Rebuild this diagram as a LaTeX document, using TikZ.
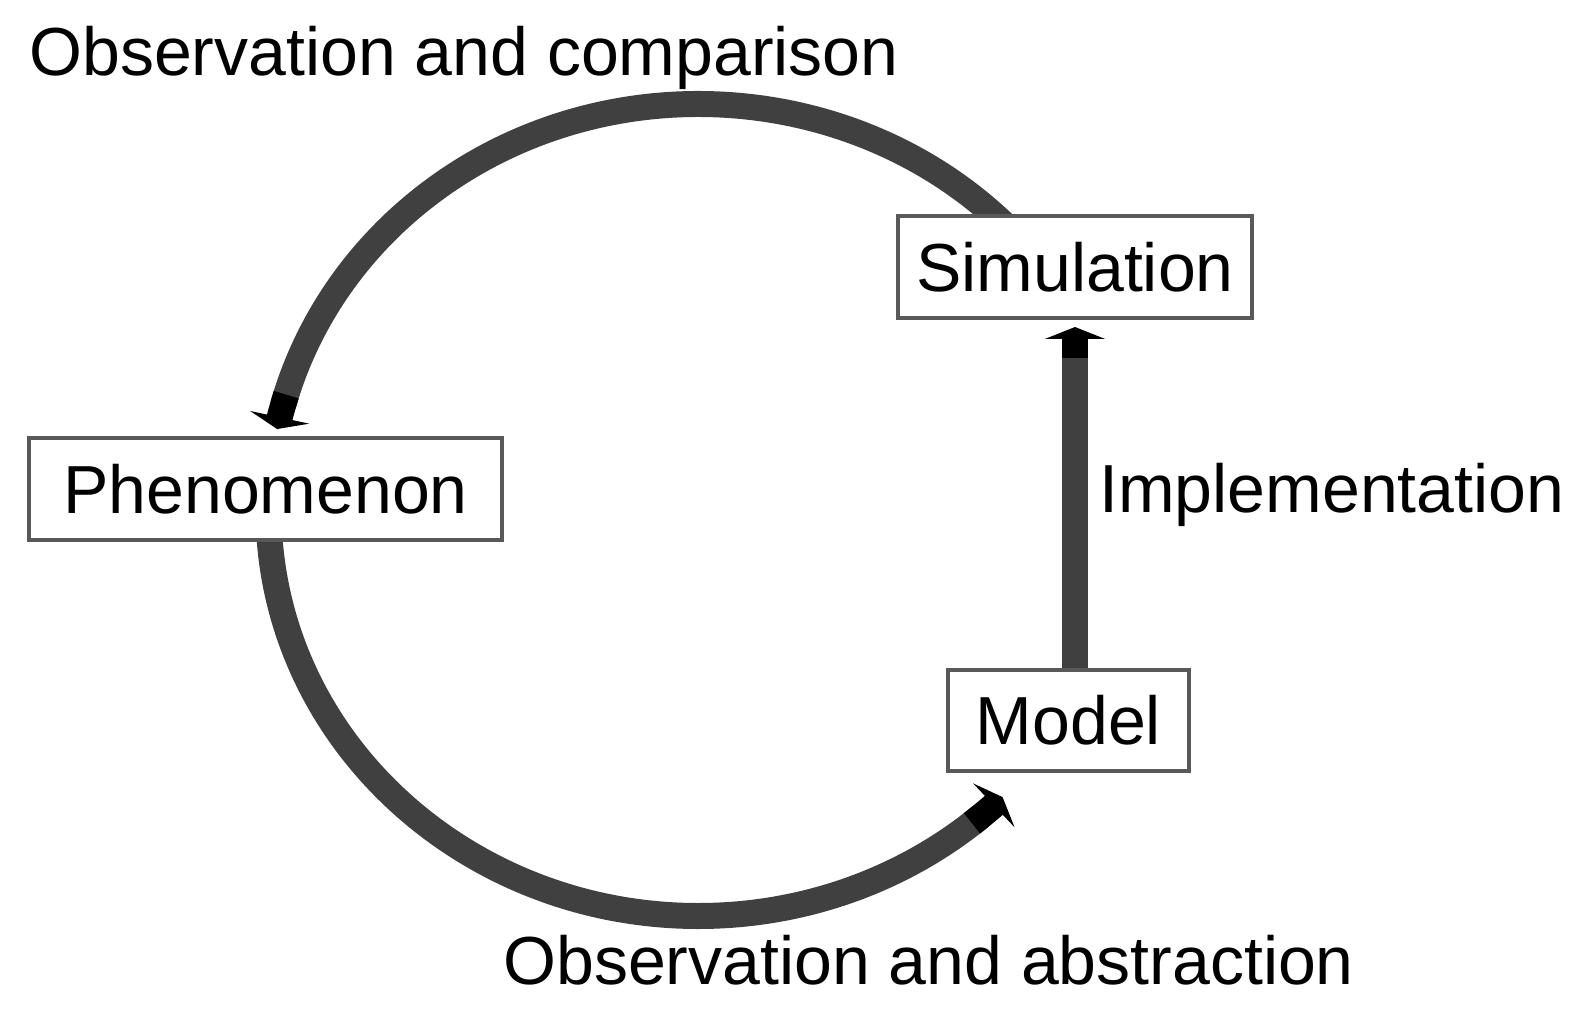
\documentclass[tikz,border=0pt]{standalone}
\usepackage{fontspec}
\setmainfont{Liberation Sans}
\usetikzlibrary{arrows.meta,calc}
\pgfdeclarelayer{bg}
\pgfsetlayers{bg,main}
\begin{document}
\begin{tikzpicture}[x=0.5pt,y=-0.5pt,
  txt/.style={font=\fontsize{34}{40}\selectfont, text height=24.3pt, text depth=0pt, inner sep=0pt},
  box/.style={txt, draw=black!65, line width=2pt, fill=white},
  lbl/.style={txt, anchor=west},
  conn/.style={draw=black!75, line width=13pt},
  stub/.style={draw=black, line width=13pt, -{Triangle[length=6pt,width=30pt]}},
  ell/.style={x radius=215pt, y radius=203pt}
]
\useasboundingbox (0,0) rectangle (1590,1021);

% boxes
\node[box, minimum width=177pt, minimum height=51pt] (S) at (1075,267) {Simulation};
\node[box, minimum width=236.5pt, minimum height=51pt] (P) at (265.5,489) {Phenomenon};
\node[box, minimum width=120.5pt, minimum height=50.5pt] (M) at (1068.5,720.5) {Model};

% labels
\node[lbl] (t1) at (29,51) {Observation and comparison};
\node[lbl] (t2) at (1099,488) {Implementation};
\node[lbl] (t3) at (503,960) {Observation and abstraction};

% cycle centre and arc end points
\coordinate (C) at (698.5,510);
\coordinate (a1s) at ($(C)+(40:215pt and 203pt)$);
\coordinate (a1k) at ($(C)+(163.5:215pt and 203pt)$);
\coordinate (a2s) at ($(C)+(182:215pt and 203pt)$);
\coordinate (a2k) at ($(C)+(309.5:215pt and 203pt)$);
\coordinate (vb) at ($(S.south)+(0,7)$);
\coordinate (vk) at ($(S.south)+(0,38)$);

\begin{pgfonlayer}{bg}
  % Simulation -> Phenomenon
  \draw[conn] (a1s) arc[ell, start angle=40, end angle=165];
  \draw[stub] (a1k) arc[ell, start angle=163.5, end angle=168.5];
  % Phenomenon -> Model
  \draw[conn] (a2s) arc[ell, start angle=182, end angle=311];
  \draw[stub] (a2k) arc[ell, start angle=309.5, end angle=315];
\end{pgfonlayer}

% Model -> Simulation
\draw[conn] (S.south |- M.north) -- ($(vk)+(0,-4)$);
\draw[stub] (vk) -- (vb);
\end{tikzpicture}
\end{document}
